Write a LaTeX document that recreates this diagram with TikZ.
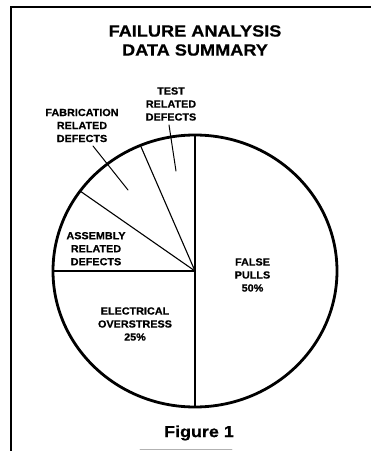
\documentclass[tikz,border=0pt]{standalone}
\usepackage{fontspec}
\setmainfont{Liberation Sans}
\newfontfamily\widefont[FakeStretch=1.12,FakeBold=0.6]{Liberation Sans}
\newfontfamily\lblfont[FakeStretch=1.05,FakeBold=0.6]{Liberation Sans}
\usetikzlibrary{calc}

\begin{document}
\begin{tikzpicture}[x=1pt,y=1pt,line cap=round,
    slice/.style={line width=1.1pt},
    leader/.style={line width=1pt},
    lbl/.style={align=center,inner sep=0pt,font=\lblfont\fontsize{10.3}{13}\selectfont\bfseries}]
    \useasboundingbox (0,0) rectangle (371,451);
    % frame
    \draw[line width=1.4pt] (11,0) -- (11,444) -- (371,444);
    \draw[gray!60,line width=0.6pt] (140,2) -- (232,2);
    \node[align=center,inner sep=0pt,font=\widefont\fontsize{16.2}{19}\selectfont\bfseries]
      (title) at (195,410.5) {FAILURE ANALYSIS\\DATA SUMMARY};
    % pie
    \coordinate (c) at (195,180);
    \foreach \a/\n in {90/top,112.6/fab,144/asm,180/west,270/bot}
      \coordinate (\n) at ($(c)+(\a:142 and 136)$);
    \draw[slice] (top) -- (bot);
    \foreach \n in {fab,asm,west} \draw[slice] (c) -- (\n);
    \draw[line width=2.8pt] (c) ellipse [x radius=142,y radius=136];
    % labels
    \node[lbl] (test) at (171,347) {TEST\\RELATED\\DEFECTS};
    \node[lbl] (fabl) at (82,325.5) {FABRICATION\\RELATED\\DEFECTS};
    \node[lbl] (asml) at (96,202.3) {ASSEMBLY\\RELATED\\DEFECTS};
    \node[lbl] (elec) at (135,127) {ELECTRICAL\\OVERSTRESS\\25\%};
    \node[lbl] (pulls) at (252.5,176) {FALSE\\PULLS\\50\%};
    \coordinate (test-a) at (169,326);
    \coordinate (test-b) at (176,280);
    \coordinate (fab-a) at (93,305);
    \coordinate (fab-b) at (128,261);
    \draw[leader] (test-a) -- (test-b);
    \draw[leader] (fab-a) -- (fab-b);
    \node[inner sep=0pt,font=\widefont\fontsize{16}{19}\selectfont\bfseries]
      (fig) at (199,18) {Figure 1};
\end{tikzpicture}
\end{document}
